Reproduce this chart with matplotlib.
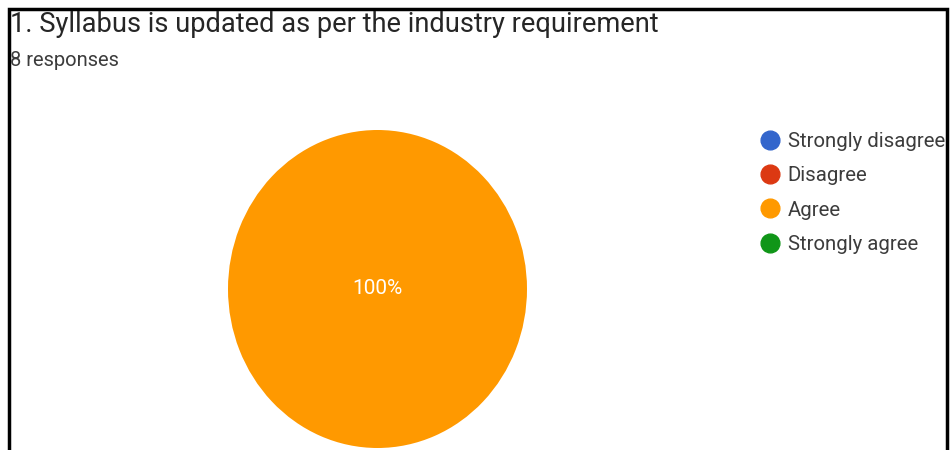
import matplotlib
matplotlib.use("Agg")
import matplotlib.pyplot as plt
from matplotlib.lines import Line2D
from matplotlib.patches import Rectangle

plt.rcParams['font.family'] = ['Roboto', 'DejaVu Sans']

# survey data
categories = ["Strongly disagree", "Disagree", "Agree", "Strongly agree"]
responses = [0, 0, 8, 0]
colors = ["#3366CC", "#DC3912", "#FF9900", "#109618"]
title = "1. Syllabus is updated as per the industry requirement"
subtitle = "8 responses"

W, H = 950, 450
fig = plt.figure(figsize=(W / 100, H / 100), dpi=100)
fig.patch.set_facecolor("white")

# pie axes, placed in pixel units
left, right, top, bottom = 228, 527, 130, 448
ax = fig.add_axes([left / W, (H - bottom) / H, (right - left) / W, (bottom - top) / H])


def pct(p):
    return f"{p:.0f}%" if p > 0 else ""


wedges, texts, autotexts = ax.pie(
    responses, colors=colors, autopct=pct, startangle=90, counterclock=False,
    wedgeprops=dict(linewidth=0), textprops=dict(color="white", fontsize=15),
    pctdistance=0.0,
)
ax.set_aspect("auto")
ax.set_xlim(-1, 1)
ax.set_ylim(-1, 1)
ax.axis("off")

# title and response count
fig.text(10 / W, 1 - 11 / H, title, fontsize=19.6, color="#262626", va="top", ha="left")
fig.text(10 / W, 1 - 51 / H, subtitle, fontsize=14.5, color="#3c3c3c", va="top", ha="left")

# legend with round markers
handles = [Line2D([], [], marker="o", linestyle="none", markersize=13.5,
                  markerfacecolor=c, markeredgecolor=c) for c in colors]
fig.legend(handles, categories, loc="upper left", bbox_to_anchor=(760 / W, 1 - 132 / H),
           frameon=False, fontsize=14.7, labelcolor="#3c3c3c", handletextpad=0.35,
           labelspacing=0.75, handlelength=1.0, borderpad=0, borderaxespad=0)

# screenshot frame
fig.add_artist(Rectangle((9 / W, -0.1), 938 / W, 1.1 - 9 / H, transform=fig.transFigure,
                         fill=False, edgecolor="black", linewidth=2.5))

fig.savefig("out.png", dpi=100)
